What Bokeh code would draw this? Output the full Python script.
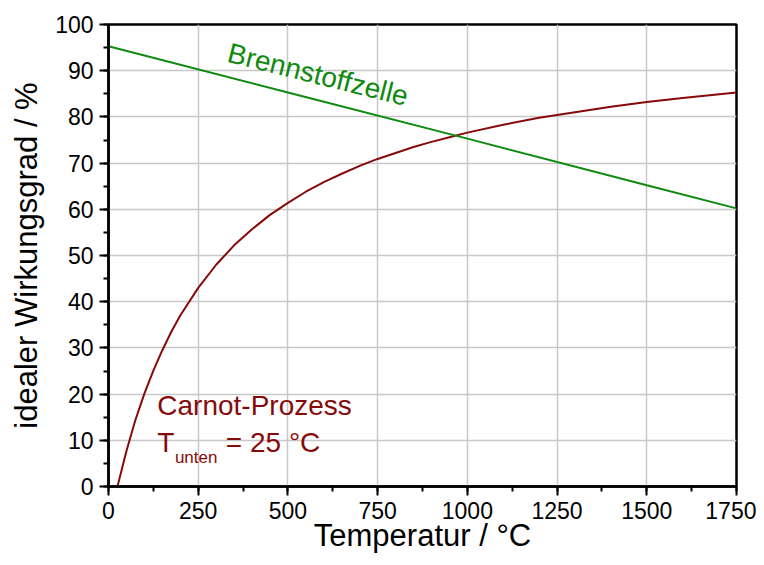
from bokeh.plotting import figure
from bokeh.models import Range1d, SingleIntervalTicker, Label
from bokeh.embed import file_html
from bokeh.resources import INLINE

# Carnot efficiency (T_unten = 25 °C)
carnot_T = [25, 50, 75, 100, 125, 150, 175, 200, 250, 300, 350, 400, 450, 500, 550,
            600, 650, 700, 750, 800, 850, 900, 950, 1000, 1100, 1200, 1300, 1400, 1500, 1600, 1750]
carnot_eta = [0.0, 7.7, 14.4, 20.1, 25.1, 29.5, 33.5, 37.0, 43.0, 48.0, 52.2, 55.7, 58.8, 61.4, 63.8,
              65.9, 67.7, 69.4, 70.9, 72.2, 73.5, 74.6, 75.6, 76.6, 78.3, 79.8, 81.0, 82.2, 83.2, 84.1, 85.3]

# Fuel cell ideal efficiency
fc_T = [0, 500, 1000, 1500, 1750]
fc_eta = [95.3, 85.3, 75.3, 65.2, 60.2]

RED = "#870a0a"
GREEN = "#0e8a0e"
FONT = "Liberation Sans"

p = figure(width=756, height=557, output_backend="svg", toolbar_location=None,
           x_range=Range1d(0, 1750), y_range=Range1d(0, 100),
           min_border_left=108, min_border_right=20, min_border_top=24, min_border_bottom=71)

p.line(carnot_T, carnot_eta, line_color=RED, line_width=2)
p.line(fc_T, fc_eta, line_color=GREEN, line_width=2)

p.xaxis.ticker = SingleIntervalTicker(interval=250, num_minor_ticks=2)
p.yaxis.ticker = SingleIntervalTicker(interval=10, num_minor_ticks=2)

for ax in (p.xaxis[0], p.yaxis[0]):
    ax.axis_line_width = 2.5
    ax.axis_line_color = "black"
    ax.major_tick_line_width = 2
    ax.minor_tick_line_width = 2
    ax.major_tick_in = 0
    ax.minor_tick_in = 0
    ax.major_tick_out = 9
    ax.minor_tick_out = 5
    ax.major_label_text_font = FONT
    ax.major_label_text_font_size = "23px"
    ax.major_label_text_color = "black"
    ax.axis_label_text_font = FONT
    ax.axis_label_text_font_size = "31px"
    ax.axis_label_text_font_style = "normal"
    ax.axis_label_text_color = "black"

p.xaxis.major_label_standoff = 6
p.xaxis.axis_label_standoff = -4
p.yaxis.major_label_standoff = 6
p.yaxis.axis_label_standoff = 8
p.xaxis.axis_label = "Temperatur / °C"
p.yaxis.axis_label = "idealer Wirkungsgrad / %"

p.xgrid.grid_line_color = "#c8c8c8"
p.ygrid.grid_line_color = "#c8c8c8"
p.xgrid.grid_line_width = 1.5
p.ygrid.grid_line_width = 1.5

p.outline_line_color = "black"
p.outline_line_width = 2.5
p.outline_line_alpha = 1

p.add_layout(Label(x=334, y=94.0, text="Brennstoffzelle", angle=-14, angle_units="deg",
                   text_font=FONT, text_font_size="28px", text_color=GREEN,
                   text_baseline="alphabetic", text_align="left"))
p.add_layout(Label(x=136, y=17.6, text="Carnot-Prozess",
                   text_font=FONT, text_font_size="28px", text_color=RED,
                   text_baseline="alphabetic", text_align="left"))
p.add_layout(Label(x=136, y=9.6, text="T",
                   text_font=FONT, text_font_size="28px", text_color=RED,
                   text_baseline="alphabetic", text_align="left"))
p.add_layout(Label(x=185, y=6.2, text="unten",
                   text_font=FONT, text_font_size="17px", text_color=RED,
                   text_baseline="alphabetic", text_align="left"))
p.add_layout(Label(x=327, y=9.6, text="= 25 °C",
                   text_font=FONT, text_font_size="28px", text_color=RED,
                   text_baseline="alphabetic", text_align="left"))

open("out.html", "w").write(file_html(p, INLINE))
